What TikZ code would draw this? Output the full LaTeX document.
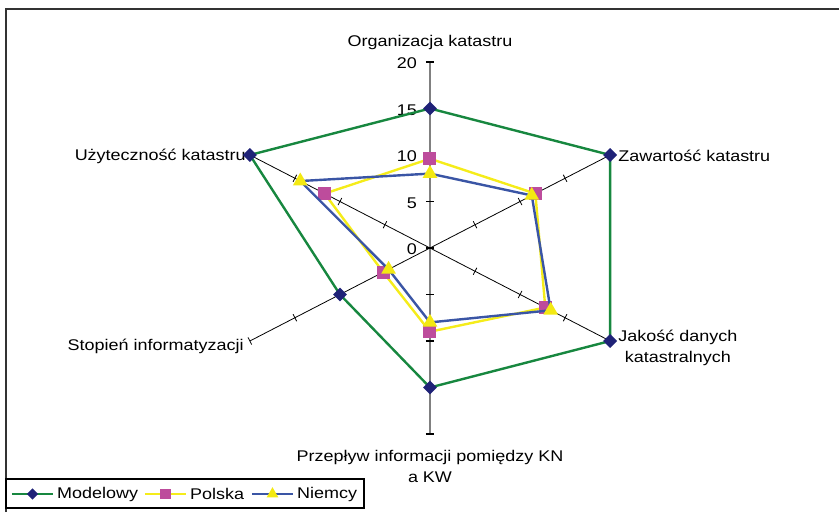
\documentclass[tikz,border=0pt]{standalone}
\usepackage{fontspec}
\setmainfont{Liberation Sans}
\usetikzlibrary{calc,positioning,shapes.geometric}
\definecolor{modc}{HTML}{17873F}
\definecolor{modmk}{HTML}{1F2277}
\definecolor{polc}{HTML}{F5EC1A}
\definecolor{polmk}{HTML}{BD4C9C}
\definecolor{niec}{HTML}{3A55A5}
\definecolor{niemk}{HTML}{F3E912}
\definecolor{axgray}{HTML}{808080}
\tikzset{
  lbl/.style={font=\fontsize{15.5}{21}\selectfont,xscale=1.16,inner sep=0pt},
  ser/.style={line width=2.4pt,line join=round},
  dmk/.style={diamond,fill=modmk,inner sep=0pt,minimum size=14pt},
  smk/.style={rectangle,fill=polmk,inner sep=0pt,minimum size=13pt},
  tmk/.style={regular polygon,regular polygon sides=3,fill=niemk,inner sep=0pt,minimum size=17pt},
  tk/.style={black,line width=0.8pt},
  vtk/.style={black,line width=1.5pt}
}
% one series: coordinates #1<k> on the six spokes
\newcommand{\pts}[2]{\foreach \v [count=\k] in {#2} \coordinate (#1\k) at ({150-60*\k}:\v);}

\begin{document}
\begin{tikzpicture}[x=10.4pt,y=9.3pt]
\useasboundingbox (-430pt,-264pt) rectangle (409pt,248pt);
\draw[black!80,line width=2pt] (-424pt,-264pt) -- (-424pt,239pt) -- (409pt,239pt);
\coordinate (c) at (0,0);
\foreach \ang/\nm in {90/org,30/zaw,-30/jak,-90/prz,-150/sto,150/uzy} \coordinate (\nm) at (\ang:20);
% axes
\draw[tk] (zaw) -- (sto);
\draw[tk] (uzy) -- (jak);
\draw[axgray,line width=1.6pt] (org) -- (prz);
\foreach \nm in {zaw,jak,sto,uzy}
  \foreach \r in {5,10,15,20} {
    \path ($(c)!{\r/20}!(\nm)$) coordinate (tq);
    \draw[tk] ($(tq)!4pt!90:(c)$) -- ($(tq)!4pt!-90:(c)$);
  }
\foreach \r in {-20,-15,...,20} \draw[vtk] ([xshift=-4pt]0,\r) -- ([xshift=4pt]0,\r);
\foreach \v in {0,5,...,20} \node[lbl,anchor=east] (n\v) at ([xshift=-13pt,yshift=-1.5pt]0,\v) {\v};
% spoke labels
\node[lbl,anchor=south] (lorg) at ([yshift=12pt]org) {Organizacja katastru};
\node[lbl,anchor=west] (lzaw) at ([xshift=8pt,yshift=-1pt]zaw) {Zawartość katastru};
\node[lbl,anchor=west,align=center] (ljak) at ([xshift=8pt,yshift=-7pt]jak) {Jakość danych\\katastralnych};
\node[lbl,anchor=north,align=center] (lprz) at ([yshift=-16pt]prz) {Przepływ informacji pomiędzy KN\\a KW};
\node[lbl,anchor=east] (lsto) at ([xshift=-6pt,yshift=-5pt]sto) {Stopień informatyzacji};
\node[lbl,anchor=east] (luzy) at ([xshift=-4pt,yshift=-1pt]uzy) {Użyteczność katastru};
% series
\pts{m}{15,20,20,15,10,20}
\pts{p}{9.6,11.7,12.8,9,5.2,11.7}
\pts{g}{8,11.3,13.4,8,4.6,14.4}
\draw[ser,modc] (m1) -- (m2) -- (m3) -- (m4) -- (m5) -- (m6) -- cycle;
\foreach \k in {1,...,6} \node[dmk] (dm\k) at (m\k) {};
\draw[ser,polc] (p1) -- (p2) -- (p3) -- (p4) -- (p5) -- (p6) -- cycle;
\foreach \k in {1,...,6} \node[smk] (sm\k) at (p\k) {};
\draw[ser,niec] (g1) -- (g2) -- (g3) -- (g4) -- (g5) -- (g6) -- cycle;
\foreach \k in {1,...,6} \node[tmk] (tm\k) at (g\k) {};
% legend
\draw[black,line width=1.2pt] (-424pt,-231pt) rectangle (-66pt,-260pt);
\foreach \xa/\col/\mk/\nm [count=\i] in {-418/modc/dmk/Modelowy,-285/polc/smk/Polska,-178/niec/tmk/Niemcy} {
  \coordinate (la\i) at (\xa pt,-246pt);
  \coordinate (lb\i) at ([xshift=41pt]la\i);
  \draw[ser,\col] (la\i) -- (lb\i);
  \node[\mk,scale=0.8] (lm\i) at ($(la\i)!.5!(lb\i)$) {};
  \node[lbl,anchor=west] (lt\i) at ([xshift=4pt]lb\i) {\nm};
}
\end{tikzpicture}
\end{document}
